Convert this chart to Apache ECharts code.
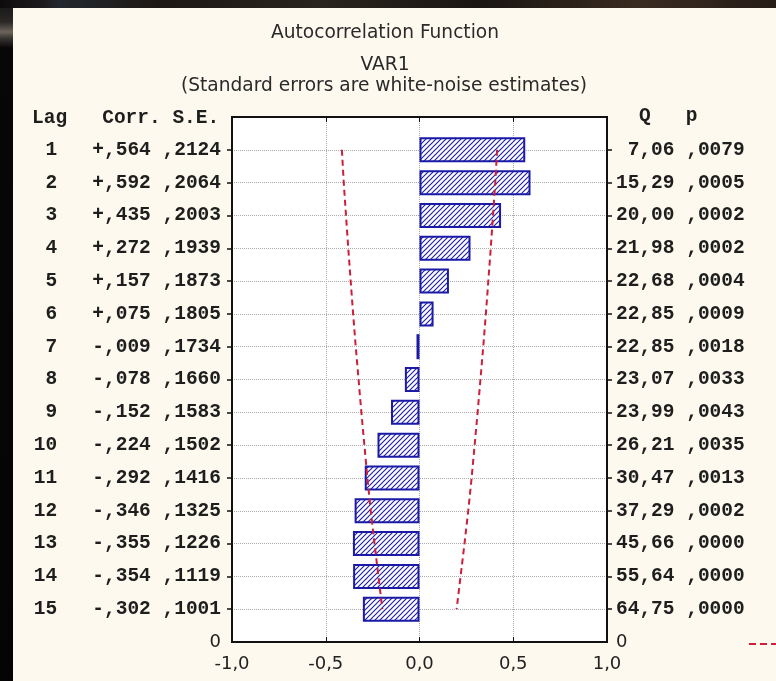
<!DOCTYPE html>
<html>
<head>
<meta charset="utf-8">
<script src="https://cdn.jsdelivr.net/npm/echarts@6/dist/echarts.min.js"></script>
<style>
  html, body { margin: 0; padding: 0; width: 776px; height: 681px; overflow: hidden;
    background: linear-gradient(to right, #0e0c0b 0px, #1c1a1c 40px, #23282e 60px, #1d1813 160px, #2a241e 320px, #1b1612 480px, #3a2b20 640px, #251c16 776px); }
  #leftstrip { position: absolute; left: 0; top: 8px; width: 13px; height: 673px;
    background: linear-gradient(to bottom, #1c1b1b 0px, #2a2826 14px, #6d655d 24px, #3a3632 30px, #070707 40px, #040404 100%); }
  #panel { position: absolute; left: 13px; top: 8px; width: 763px; height: 673px; background: #fdf9ee; }
  #chart { position: absolute; left: 0; top: 0; width: 776px; height: 681px; }
</style>
</head>
<body>
<div id="leftstrip"></div>
<div id="panel"></div>
<div id="chart"></div>
<script>
// ---- data ----
const lags = [1, 2, 3, 4, 5, 6, 7, 8, 9, 10, 11, 12, 13, 14, 15];
const corr = [0.564, 0.592, 0.435, 0.272, 0.157, 0.075, -0.009, -0.078, -0.152, -0.224, -0.292, -0.346, -0.355, -0.354, -0.302];
const stdErr = [0.2124, 0.2064, 0.2003, 0.1939, 0.1873, 0.1805, 0.1734, 0.1660, 0.1583, 0.1502, 0.1416, 0.1325, 0.1226, 0.1119, 0.1001];
const qStat = [7.06, 15.29, 20.00, 21.98, 22.68, 22.85, 22.85, 23.07, 23.99, 26.21, 30.47, 37.29, 45.66, 55.64, 64.75];
const pVal = [0.0079, 0.0005, 0.0002, 0.0002, 0.0004, 0.0009, 0.0018, 0.0033, 0.0043, 0.0035, 0.0013, 0.0002, 0.0000, 0.0000, 0.0000];
const upperLimit = [0.414, 0.404, 0.392, 0.380, 0.367, 0.354, 0.340, 0.325, 0.310, 0.294, 0.278, 0.260, 0.240, 0.219, 0.198];
const lowerLimit = [-0.414, -0.404, -0.392, -0.380, -0.367, -0.354, -0.340, -0.325, -0.310, -0.294, -0.278, -0.260, -0.240, -0.219, -0.198];
const xTicks = [-1.0, -0.5, 0.0, 0.5, 1.0];
const titleLines = ['Autocorrelation Function', 'VAR1', '(Standard errors are white-noise estimates)'];

// ---- helpers ----
const yCats = [''].concat(lags.map(String), ['0']);
function pad(s, n) { s = String(s); while (s.length < n) s = ' ' + s; return s; }
function fmtCorr(v) { return (v >= 0 ? '+' : '-') + ',' + Math.abs(v).toFixed(3).slice(2); }
function fmtFrac4(v) { return ',' + v.toFixed(4).slice(2); }
function fmtQ(v) { return pad(v.toFixed(2).replace('.', ','), 5); }
function wrap(arr) { return [null].concat(arr, [null]); }

const MONO = '"Liberation Mono", "Courier New", monospace';
const SANS = '"DejaVu Sans", sans-serif';

// hatch pattern
const cv = document.createElement('canvas');
cv.width = 5; cv.height = 5;
const cx = cv.getContext('2d');
cx.fillStyle = '#ffffff'; cx.fillRect(0, 0, 5, 5);
cx.strokeStyle = '#2222aa'; cx.lineWidth = 1.2;
cx.beginPath();
cx.moveTo(-1, 6); cx.lineTo(6, -1);
cx.moveTo(-1, 1); cx.lineTo(1, -1);
cx.moveTo(4, 6); cx.lineTo(6, 4);
cx.stroke();

const chart = echarts.init(document.getElementById('chart'), null, { renderer: 'canvas' });

const monoStyle = { fontFamily: MONO, fontSize: 19.5, fontWeight: 'bold', color: '#1e1e1e' };
const sansStyle = { fontFamily: SANS, fontSize: 18, fontWeight: 'normal', color: '#222' };
const titleStyle = { fontFamily: SANS, fontSize: 18.6, fontWeight: 'normal', color: '#2a2a2a' };

const option = {
  backgroundColor: 'transparent',
  animation: false,
  title: [
    { text: titleLines[0], left: 385, textAlign: 'center', top: 24, padding: 0, textStyle: titleStyle },
    { text: titleLines[1], left: 385, textAlign: 'center', top: 56, padding: 0, textStyle: titleStyle },
    { text: titleLines[2], left: 384, textAlign: 'center', top: 76.5, padding: 0, textStyle: titleStyle },
    { text: 'Lag   Corr. S.E.', left: 32, top: 108, padding: 0, textStyle: monoStyle },
    { text: 'Q   p', left: 639, top: 106, padding: 0, textStyle: monoStyle }
  ],
  legend: {
    data: [{ name: 'Conf. Limit', icon: 'path://M0,0h7v2h-7z M11,0h7v2h-7z M22,0h7v2h-7z' }],
    left: 749, top: 635, padding: 0,
    itemWidth: 29, itemHeight: 14,
    textStyle: sansStyle
  },
  grid: {
    left: 232, right: 169, top: 117, bottom: 39,
    show: true, backgroundColor: '#ffffff', borderColor: '#111', borderWidth: 2
  },
  xAxis: [
    {
      type: 'value', position: 'bottom', min: xTicks[0], max: xTicks[xTicks.length - 1], interval: 0.5,
      axisLine: { show: true, lineStyle: { color: '#111', width: 2 } },
      axisTick: { show: true, inside: true, length: 5, lineStyle: { color: '#111' } },
      axisLabel: { margin: 13, fontFamily: SANS, fontSize: 18, color: '#222',
        formatter: v => v.toFixed(1).replace('.', ',') },
      splitLine: { show: true, lineStyle: { color: '#aaaaaa', type: 'dotted', width: 1 } }
    },
    {
      type: 'value', position: 'top', min: xTicks[0], max: xTicks[xTicks.length - 1], interval: 0.5,
      axisLine: { show: true, lineStyle: { color: '#111', width: 2 } },
      axisTick: { show: true, inside: true, length: 5, lineStyle: { color: '#111' } },
      axisLabel: { show: false },
      splitLine: { show: false }
    }
  ],
  yAxis: [
    {
      type: 'category', data: yCats, inverse: true, boundaryGap: false, position: 'left',
      axisLine: { show: true, onZero: false, lineStyle: { color: '#111', width: 2 } },
      axisTick: { show: true, length: 5, lineStyle: { color: '#111', width: 1.5 },
        interval: (i) => i > 0 && i < yCats.length - 1 },
      axisLabel: {
        interval: 0, margin: 11, fontFamily: MONO, fontSize: 19.5, fontWeight: 'bold', color: '#1e1e1e',
        formatter: function (value, index) {
          if (index === 0) return '';
          if (index === yCats.length - 1) return '{z|0}';
          const i = index - 1;
          return '{m|' + pad(lags[i], 2) + '   ' + fmtCorr(corr[i]) + ' ' + fmtFrac4(stdErr[i]) + '}';
        },
        rich: {
          m: monoStyle,
          z: sansStyle
        }
      },
      splitLine: { show: true, lineStyle: { color: '#aaaaaa', type: 'dotted', width: 1 } }
    },
    {
      type: 'category', data: yCats, inverse: true, boundaryGap: false, position: 'right',
      axisLine: { show: true, onZero: false, lineStyle: { color: '#111', width: 2 } },
      axisTick: { show: true, length: 5, lineStyle: { color: '#111', width: 1.5 },
        interval: (i) => i > 0 && i < yCats.length - 1 },
      axisLabel: {
        interval: 0, margin: 9, fontFamily: MONO, fontSize: 19.5, fontWeight: 'bold', color: '#1e1e1e',
        formatter: function (value, index) {
          if (index === 0) return '';
          if (index === yCats.length - 1) return '{z|0}';
          const i = index - 1;
          return '{m|' + fmtQ(qStat[i]) + ' ' + fmtFrac4(pVal[i]) + '}';
        },
        rich: {
          m: monoStyle,
          z: sansStyle
        }
      },
      splitLine: { show: false }
    }
  ],
  series: [
    {
      name: 'Corr', type: 'bar', xAxisIndex: 0, yAxisIndex: 0,
      data: wrap(corr), barWidth: 25, barMinHeight: 3,
      itemStyle: { color: { image: cv, repeat: 'repeat' }, borderColor: '#1a1aa6', borderWidth: 2 }
    },
    {
      name: 'Conf. Limit', type: 'line', xAxisIndex: 0, yAxisIndex: 0,
      data: wrap(upperLimit), symbol: 'none', connectNulls: false,
      lineStyle: { color: '#cc1f3a', width: 2, type: [6, 4] }, itemStyle: { color: '#cc1f3a' }
    },
    {
      name: 'Conf. Limit', type: 'line', xAxisIndex: 0, yAxisIndex: 0,
      data: wrap(lowerLimit), symbol: 'none', connectNulls: false,
      lineStyle: { color: '#cc1f3a', width: 2, type: [6, 4] }, itemStyle: { color: '#cc1f3a' }
    }
  ]
};
chart.setOption(option);
</script>
</body>
</html>
